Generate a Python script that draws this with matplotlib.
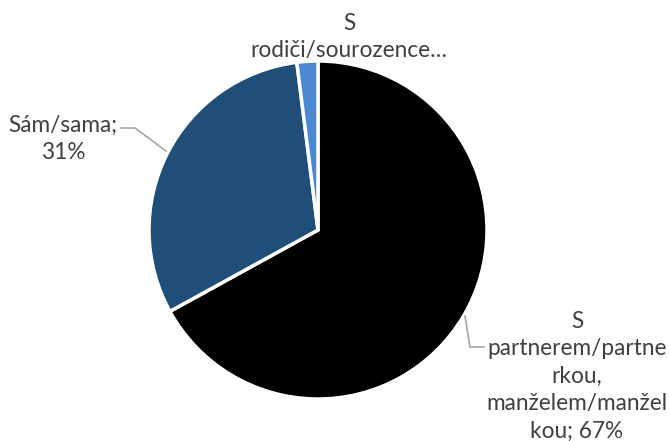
import matplotlib.pyplot as plt

labels = ["S\npartnerem/partne\nrkou,\nmanželem/manžel\nkou; 67%",
          "Sám/sama;\n31%",
          "S\nrodiči/sourozence…"]
values = [67, 31, 2]
colors = ["#000000", "#1F4E79", "#4A88D4"]

W, H = 670, 441
fig = plt.figure(figsize=(W / 100, H / 100), dpi=100)
ax = fig.add_axes([0, 0, 1, 1])

cx, cy, r = 318, H - 230, 169
ax.pie(values, colors=colors, startangle=90, counterclock=False,
       center=(cx, cy), radius=r, frame=True,
       wedgeprops=dict(edgecolor="white", linewidth=2.5))
ax.set_xlim(0, W)
ax.set_ylim(0, H)
ax.set_aspect("equal")
ax.axis("off")

txt = dict(color="#404040", fontsize=16.3, family="Lato",
           ha="center", va="center", linespacing=1.38)

# label positions (pixel coords, y from top)
ax.text(577, H - 376, labels[0], **txt)
ax.text(63, H - 139, labels[1], **txt)
ax.text(349, H - 37, labels[2], **txt)

# leader lines
lc = dict(color="#A6A6A6", linewidth=1.2)
ax.plot([465, 470, 484], [H - 316, H - 347, H - 347], **lc)
ax.plot([121, 135, 166], [H - 128, H - 128, H - 151], **lc)

fig.savefig("out.png", dpi=100)
